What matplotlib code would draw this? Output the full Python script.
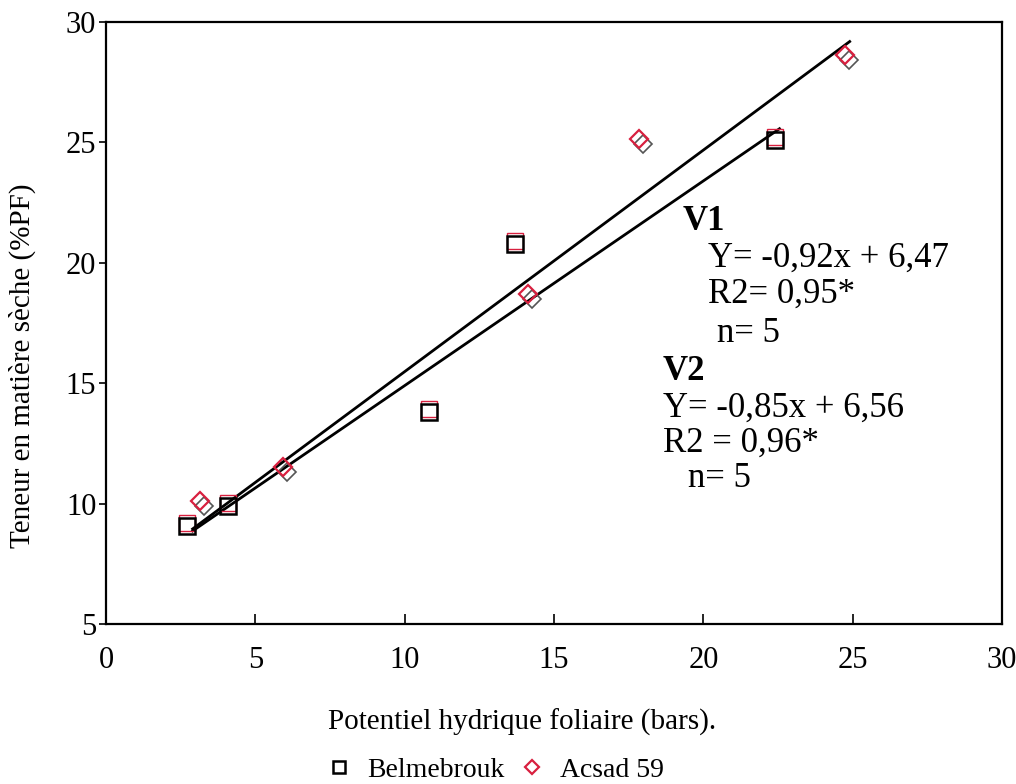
import numpy as np
import matplotlib
matplotlib.use("Agg")
from matplotlib import pyplot as plt
from matplotlib import transforms

plt.rcParams['font.family'] = ['Liberation Serif', 'DejaVu Serif']

# Belmebrouk (carrés)
bel_x = [2.7, 4.1, 10.8, 13.7, 22.4]
bel_y = [9.05, 9.9, 13.8, 20.8, 25.1]

# Acsad 59 (losanges)
acs_x = [3.2, 6.0, 14.2, 17.9, 24.8]
acs_y = [10.0, 11.4, 18.6, 25.0, 28.5]

# droites de régression (tracées)
v1_slope, v1_icpt = 0.92, 6.28
v2_slope, v2_icpt = 0.85, 6.40
v1_range = [2.9, 24.9]
v2_range = [2.9, 22.55]

W, H = 1016, 784
fig = plt.figure(figsize=(W / 100, H / 100), dpi=100)
ax = fig.add_axes([106 / W, 1 - 624 / H, (1002 - 106) / W, (624 - 22) / H])

# lignes
xx = np.array(v1_range)
ax.plot(xx, v1_slope * xx + v1_icpt, color='black', lw=2.0, zorder=2)
xx = np.array(v2_range)
ax.plot(xx, v2_slope * xx + v2_icpt, color='black', lw=2.0, zorder=2)

# points : effet "décalage" rouge/noir comme sur le scan
up = transforms.offset_copy(ax.transData, fig=fig, x=0, y=3, units='dots')
ax.plot(bel_x, bel_y, 's', ms=11, mfc='none', mec='#d8203f', mew=1.0,
        transform=up, zorder=3)
sq, = ax.plot(bel_x, bel_y, 's', ms=11, mfc='none', mec='black', mew=1.8,
              zorder=4)

ul = transforms.offset_copy(ax.transData, fig=fig, x=-2, y=3, units='dots')
dr = transforms.offset_copy(ax.transData, fig=fig, x=2, y=-2, units='dots')
ax.plot(acs_x, acs_y, 'D', ms=9, mfc='none', mec='#555555', mew=1.2,
        transform=dr, zorder=3)
dm, = ax.plot(acs_x, acs_y, 'D', ms=9, mfc='none', mec='#d8203f', mew=1.6,
              transform=ul, zorder=4)

ax.set_xlim(0, 30)
ax.set_ylim(5, 30)
ax.set_xticks([0, 5, 10, 15, 20, 25, 30])
ax.set_yticks([5, 10, 15, 20, 25, 30])
ax.tick_params(axis='x', direction='in', length=7, width=1.2, labelsize=22, pad=16)
ax.tick_params(axis='y', direction='out', length=5, width=1.2, labelsize=22, pad=2)
for s in ax.spines.values():
    s.set_linewidth(1.6)

# annotations
def ftxt(px, py, s, **kw):
    fig.text(px / W, 1 - py / H, s, va='center', ha='left', fontsize=25, **kw)

ftxt(683, 222, 'V1', fontweight='bold')
ftxt(708, 258, 'Y= -0,92x + 6,47')
ftxt(708, 294, 'R2= 0,95*')
ftxt(717, 333, 'n= 5')
ftxt(663, 371, 'V2', fontweight='bold')
ftxt(663, 408, 'Y= -0,85x + 6,56')
ftxt(663, 443, 'R2 = 0,96*')
ftxt(688, 478, 'n= 5')

fig.text(22 / W, 1 - 366 / H, 'Teneur en matière sèche (%PF)', rotation=90,
         ha='center', va='center', fontsize=21)
fig.text(522 / W, 1 - 722 / H, 'Potentiel hydrique foliaire (bars).',
         ha='center', va='center', fontsize=21)

fig.legend([sq, dm], ['Belmebrouk', 'Acsad 59'], loc='center',
           bbox_to_anchor=(496 / W, 1 - 770 / H), ncol=2, frameon=False,
           fontsize=20, handlelength=0.8, handletextpad=0.6, columnspacing=0.6,
           markerscale=0.8)

fig.savefig('out.png', dpi=100)
